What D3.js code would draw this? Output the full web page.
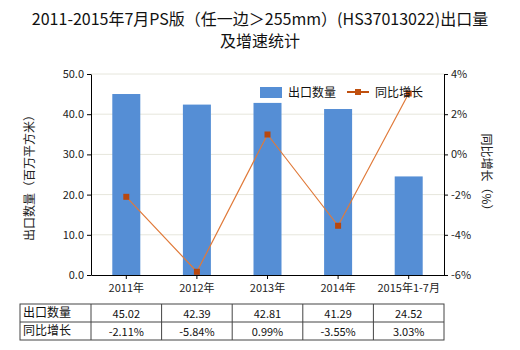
<!DOCTYPE html>
<html><head><meta charset="utf-8">
<script src="https://cdn.jsdelivr.net/npm/d3@7"></script>
<style>body{margin:0;background:#fff}svg{display:block}text{font-family:"Microsoft YaHei","Noto Sans CJK SC",sans-serif}</style>
</head><body>
<svg id="c" width="520" height="350"></svg>
<script>
const categories = ["2011年","2012年","2013年","2014年","2015年1-7月"];
const exportQty = [45.02,42.39,42.81,41.29,24.52];
const growth = [-2.11,-5.84,0.99,-3.55,3.03];
const qtyLabels = ["45.02","42.39","42.81","41.29","24.52"];
const growthLabels = ["-2.11%","-5.84%","0.99%","-3.55%","3.03%"];
const leftTicks = [0,10,20,30,40,50];
const rightTicks = [-6,-4,-2,0,2,4];

const svg = d3.select("#c");
const L=91,R=444,T=74,B=275;
const x = d3.scaleBand().domain(categories).range([L,R]);
const yL = d3.scaleLinear().domain([0,50]).range([B,T]);
const yR = d3.scaleLinear().domain([-6,4]).range([B,T]);
const fs = 12;

svg.append("text").attr("x",260).attr("y",25).attr("text-anchor","middle").attr("font-size",16).attr("fill","#111")
  .text("2011-2015年7月PS版（任一边＞255mm）(HS37013022)出口量");
svg.append("text").attr("x",260).attr("y",47).attr("text-anchor","middle").attr("font-size",16).attr("fill","#111")
  .text("及增速统计");

// grid
svg.append("g").selectAll("line").data(leftTicks.slice(1)).join("line")
  .attr("x1",L).attr("x2",R).attr("y1",d=>yL(d)).attr("y2",d=>yL(d))
  .attr("stroke","#e6e6dc").attr("stroke-width",1);

// bars
const bw=28;
svg.append("g").selectAll("rect").data(exportQty).join("rect")
  .attr("x",(d,i)=>x(categories[i])+x.bandwidth()/2-bw/2).attr("width",bw)
  .attr("y",d=>yL(d)).attr("height",d=>B-yL(d)).attr("fill","#558ed5");

// line
const line = d3.line().x((d,i)=>x(categories[i])+x.bandwidth()/2).y(d=>yR(d));
svg.append("path").datum(growth).attr("d",line).attr("fill","none").attr("stroke","#e07a3a").attr("stroke-width",1.2);
svg.append("g").selectAll("rect").data(growth).join("rect")
  .attr("x",(d,i)=>x(categories[i])+x.bandwidth()/2-3).attr("y",d=>yR(d)-3)
  .attr("width",6).attr("height",6).attr("fill","#b8470e");

// axes
const axL = svg.append("g").attr("transform",`translate(${L},0)`)
  .call(d3.axisLeft(yL).tickValues(leftTicks).tickFormat(d3.format(".1f")).tickSize(4).tickSizeOuter(0));
const axR = svg.append("g").attr("transform",`translate(${R},0)`)
  .call(d3.axisRight(yR).tickValues(rightTicks).tickFormat(d=>d+"%").tickSize(4).tickSizeOuter(0));
const axB = svg.append("g").attr("transform",`translate(0,${B})`)
  .call(d3.axisBottom(x).tickSize(4).tickSizeOuter(0));
[axL,axR,axB].forEach(a=>{
  a.selectAll("path,line").attr("stroke","#000");
  a.selectAll("text").attr("font-size",11).attr("fill","#222");
});
axB.selectAll("text").attr("dy","0.9em");

// axis titles
svg.append("text").attr("transform","translate(34,175) rotate(-90)").attr("text-anchor","middle")
  .attr("font-size",fs).attr("fill","#222").text("出口数量（百万平方米）");
svg.append("text").attr("transform","translate(482,175) rotate(90)").attr("text-anchor","middle")
  .attr("font-size",fs).attr("fill","#222").text("同比增长（%）");

// legend
svg.append("rect").attr("x",260).attr("y",87).attr("width",22).attr("height",11).attr("fill","#558ed5");
svg.append("text").attr("x",288).attr("y",97).attr("font-size",fs).attr("fill","#111").text("出口数量");
svg.append("line").attr("x1",347).attr("x2",369).attr("y1",92).attr("y2",92).attr("stroke","#c0500f").attr("stroke-width",2);
svg.append("rect").attr("x",355).attr("y",89).attr("width",6).attr("height",6).attr("fill","#c0500f");
svg.append("text").attr("x",375).attr("y",97).attr("font-size",fs).attr("fill","#111").text("同比增长");

// table
const tX0=20, tY0=304, rh=18;
const tbl = svg.append("g");
const rows = [["出口数量",qtyLabels],["同比增长",growthLabels]];
tbl.append("rect").attr("x",tX0).attr("y",tY0).attr("width",R-tX0).attr("height",rh*2)
  .attr("fill","none").attr("stroke","#444");
tbl.append("line").attr("x1",tX0).attr("x2",R).attr("y1",tY0+rh).attr("y2",tY0+rh).attr("stroke","#444");
categories.forEach(c=>{
  tbl.append("line").attr("x1",x(c)).attr("x2",x(c)).attr("y1",tY0).attr("y2",tY0+2*rh).attr("stroke","#444");
});
rows.forEach((r,ri)=>{
  tbl.append("text").attr("x",tX0+3).attr("y",tY0+ri*rh+13).attr("font-size",fs).attr("fill","#111").text(r[0]);
  r[1].forEach((v,i)=>{
    tbl.append("text").attr("x",x(categories[i])+x.bandwidth()/2).attr("y",tY0+ri*rh+14)
      .attr("text-anchor","middle").attr("font-size",11).attr("fill","#111").text(v);
  });
});
</script>
</body></html>
